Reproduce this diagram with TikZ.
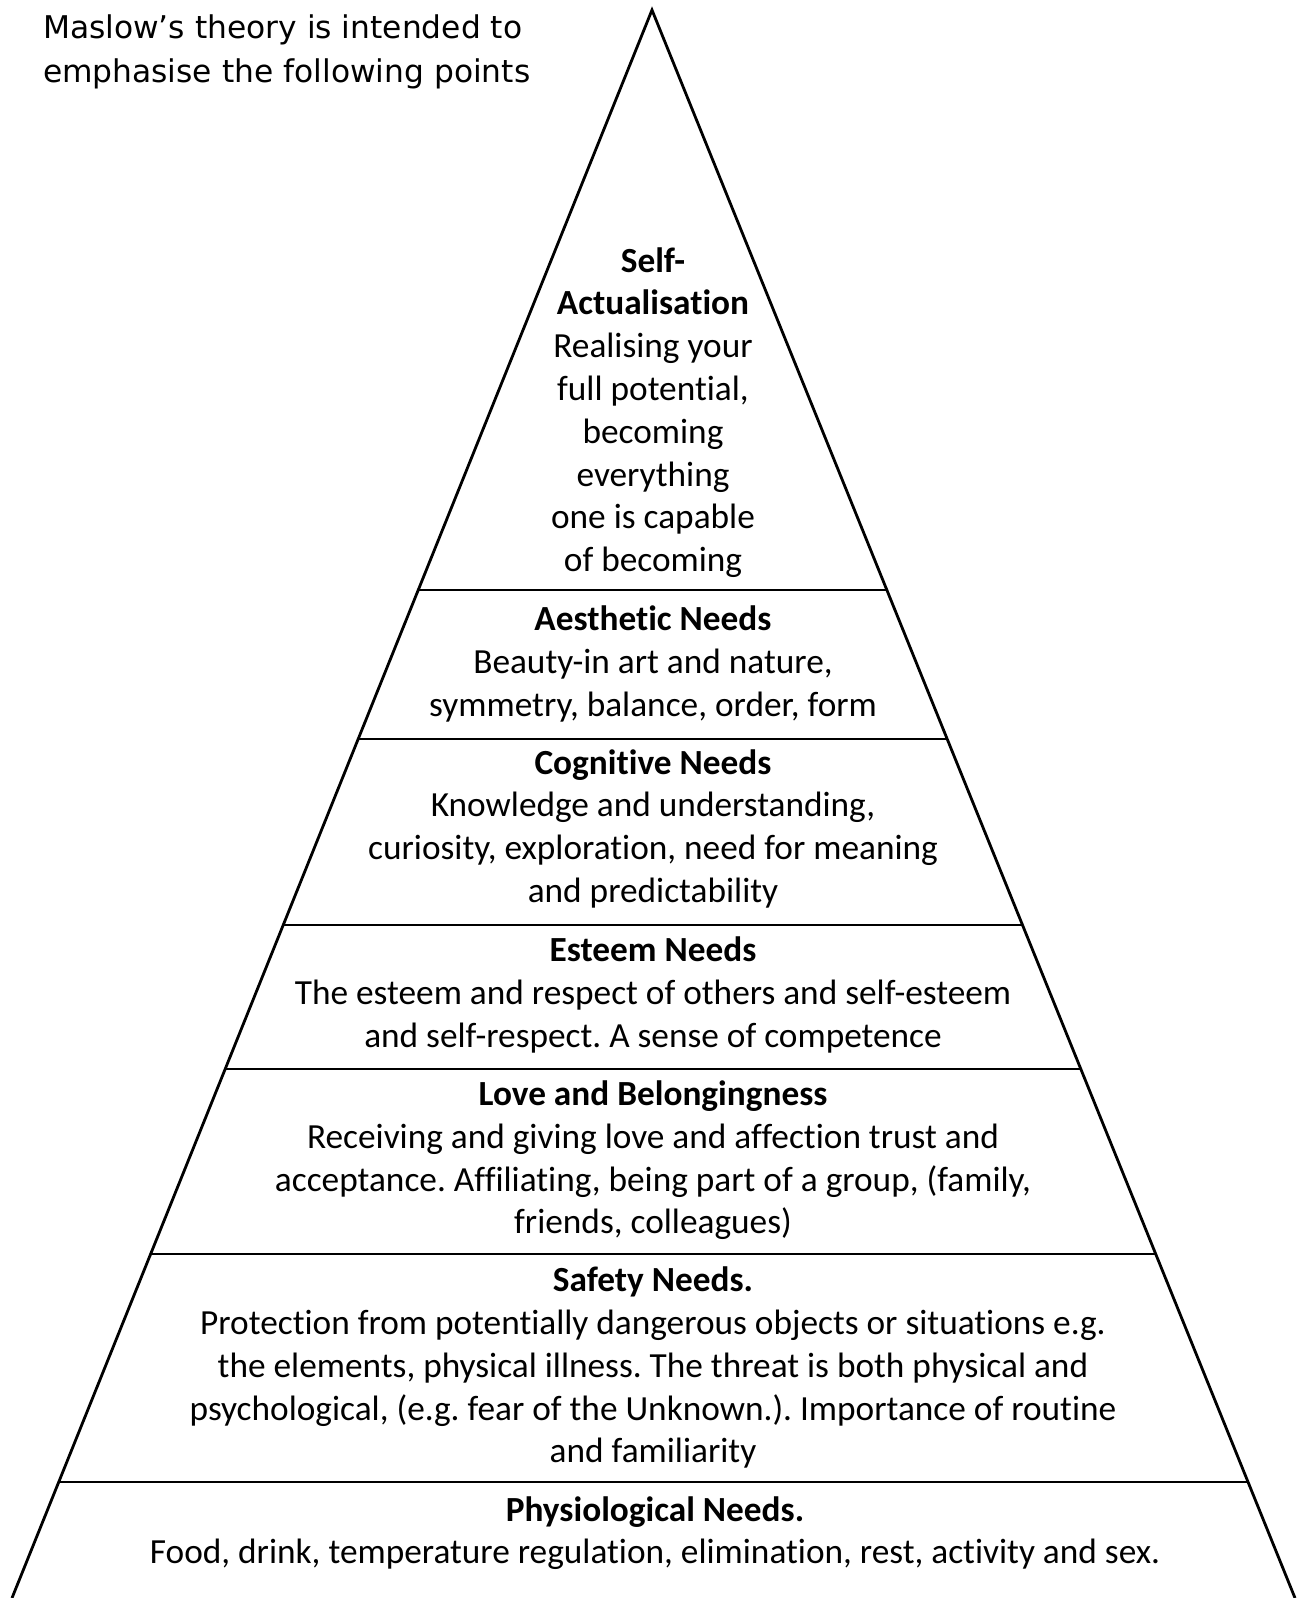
\documentclass[tikz,border=0pt]{standalone}
\usepackage{fontspec}
\setmainfont{Carlito}[Ligatures=NoCommon]
\newfontfamily\headfont{DejaVu Sans}
\usetikzlibrary{calc}
\frenchspacing
\begin{document}
\begin{tikzpicture}[x=1pt,y=-1pt,
  lvl/.style={align=center, font=\fontsize{35.3}{42.8}\selectfont, inner sep=0pt},
  head/.style={align=left, anchor=west, font=\headfont\fontsize{31.3}{43.8}\selectfont, inner sep=0pt},
  side/.style={line width=2.8pt, line join=miter},
  tier/.style={line width=1.7pt}]
\useasboundingbox (0,0) rectangle (1298,1598);
\coordinate (apex) at (652,10);
\coordinate (bl) at (12,1598);
\coordinate (br) at (1295,1598);
\draw[side] (bl) -- (apex) -- (br);
\foreach \t/\n in {0.3652/a,0.4591/b,0.5762/c,0.6669/d,0.7834/e,0.9270/f}{
  \coordinate (L\n) at ($(apex)!\t!(bl)$);
  \coordinate (R\n) at ($(apex)!\t!(br)$);
  \draw[tier] (L\n) -- (R\n);
}
\node[head] (hd) at (42.8,52) {Maslow’s theory is intended to\\emphasise the following points};
\node[lvl] (self) at (653,412.5) {\textbf{Self-}\\\textbf{Actualisation}\\Realising your\\full potential,\\becoming\\everything\\one is capable\\of becoming};
\node[lvl] (aes) at (653,664.2) {\textbf{Aesthetic Needs}\\Beauty-in art and nature,\\symmetry, balance, order, form};
\node[lvl] (cog) at (653,828.7) {\textbf{Cognitive Needs}\\Knowledge and understanding,\\curiosity, exploration, need for meaning\\and predictability};
\node[lvl] (est) at (653,994.8) {\textbf{Esteem Needs}\\The esteem and respect of others and self-esteem\\and self-respect. A sense of competence};
\node[lvl] (love) at (653,1160.3) {\textbf{Love and Belongingness}\\Receiving and giving love and affection trust and\\acceptance. Affiliating, being part of a group, (family,\\friends, colleagues)};
\node[lvl] (safe) at (653,1367.7) {\textbf{Safety Needs.}\\Protection from potentially dangerous objects or situations e.g.\\the elements, physical illness. The threat is both physical and\\psychological, (e.g. fear of the Unknown.). Importance of routine\\and familiarity};
\node[lvl] (phys) at (655,1533.2) {\textbf{Physiological Needs.}\\Food, drink, temperature regulation, elimination, rest, activity and sex.};
\end{tikzpicture}
\end{document}
